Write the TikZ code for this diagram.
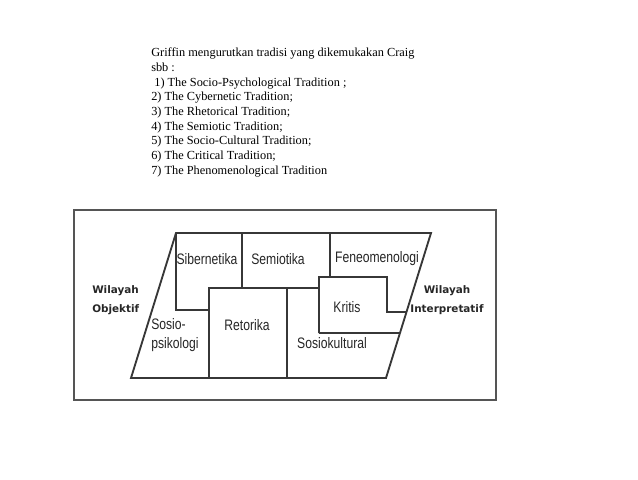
\documentclass[tikz,border=0pt]{standalone}
\usepackage{fontspec}
\setmainfont{Liberation Serif}
\newfontfamily\diagfont[FakeStretch=0.8]{Liberation Sans}
\newfontfamily\regionfont{DejaVu Sans}
\usetikzlibrary{positioning, calc}
\definecolor{linegray}{RGB}{55,55,55}
\definecolor{framegray}{RGB}{85,85,85}

\begin{document}
\begin{tikzpicture}[x=0.75pt, y=-0.75pt,
  field/.style={font=\diagfont\fontsize{11.4}{13.8}\selectfont, text=black!85, inner sep=0pt},
  region/.style={font=\regionfont\bfseries\fontsize{7.8}{14.3}\selectfont, text=black!85, inner sep=0pt},
  wall/.style={draw=linegray, line width=1.4pt, line join=miter},
  frame/.style={draw=framegray, line width=1.5pt}
]
  \useasboundingbox (0,0) rectangle (638,479);

  % list of traditions
  \node[anchor=north west, align=left, inner sep=0pt,
        font=\fontsize{9.25}{11}\selectfont] (intro) at (151,48)
       {Griffin mengurutkan tradisi yang dikemukakan Craig\\
        sbb :\\
        \hspace*{0.25em}1) The Socio-Psychological Tradition ;\\
        2) The Cybernetic Tradition;\\
        3) The Rhetorical Tradition;\\
        4) The Semiotic Tradition;\\
        5) The Socio-Cultural Tradition;\\
        6) The Critical Tradition;\\
        7) The Phenomenological Tradition};

  % outer frame
  \draw[frame] (74,210) rectangle (496,400);

  % the field
  \coordinate (tl) at (176,233);
  \coordinate (tr) at (431,233);
  \coordinate (br) at (386,378);
  \coordinate (bl) at (131,378);
  \draw[wall] (tl) -- (tr) -- (br) -- (bl) -- cycle;

  \draw[wall] (242,233) -- (242,288);
  \draw[wall] (330,233) -- (330,277);
  \draw[wall] (tl) -- (176,310) -- (209,310);
  \draw[wall] (209,378) -- (209,288) -- (319,288);
  \draw[wall] (287,288) -- (287,378);
  \draw[wall] (319,333) -- (319,277) -- (387,277) -- (387,312)
              -- ($(tr)!0.545!(br)$);
  \draw[wall] (319,333) -- ($(tr)!0.69!(br)$);

  % traditions
  \node[field] (siber)  at (207,259) {Sibernetika};
  \node[field] (semio)  at (278,259) {Semiotika};
  \node[field] (feno)   at (377,259) {Feneomenologi};
  \node[field] (kritis) at (347,307) {Kritis};
  \node[field] (retor)  at (247,325) {Retorika};
  \node[field, align=left, anchor=west] (psiko) at (151,335) {Sosio-\\psikologi};
  \node[field] (kultur) at (332,343) {Sosiokultural};

  % regions
  \node[region, align=left, anchor=west] (obj) at (92,300) {Wilayah\\Objektif};
  \node[region, align=center] (interp) at (447,300) {Wilayah\\Interpretatif};
\end{tikzpicture}
\end{document}
